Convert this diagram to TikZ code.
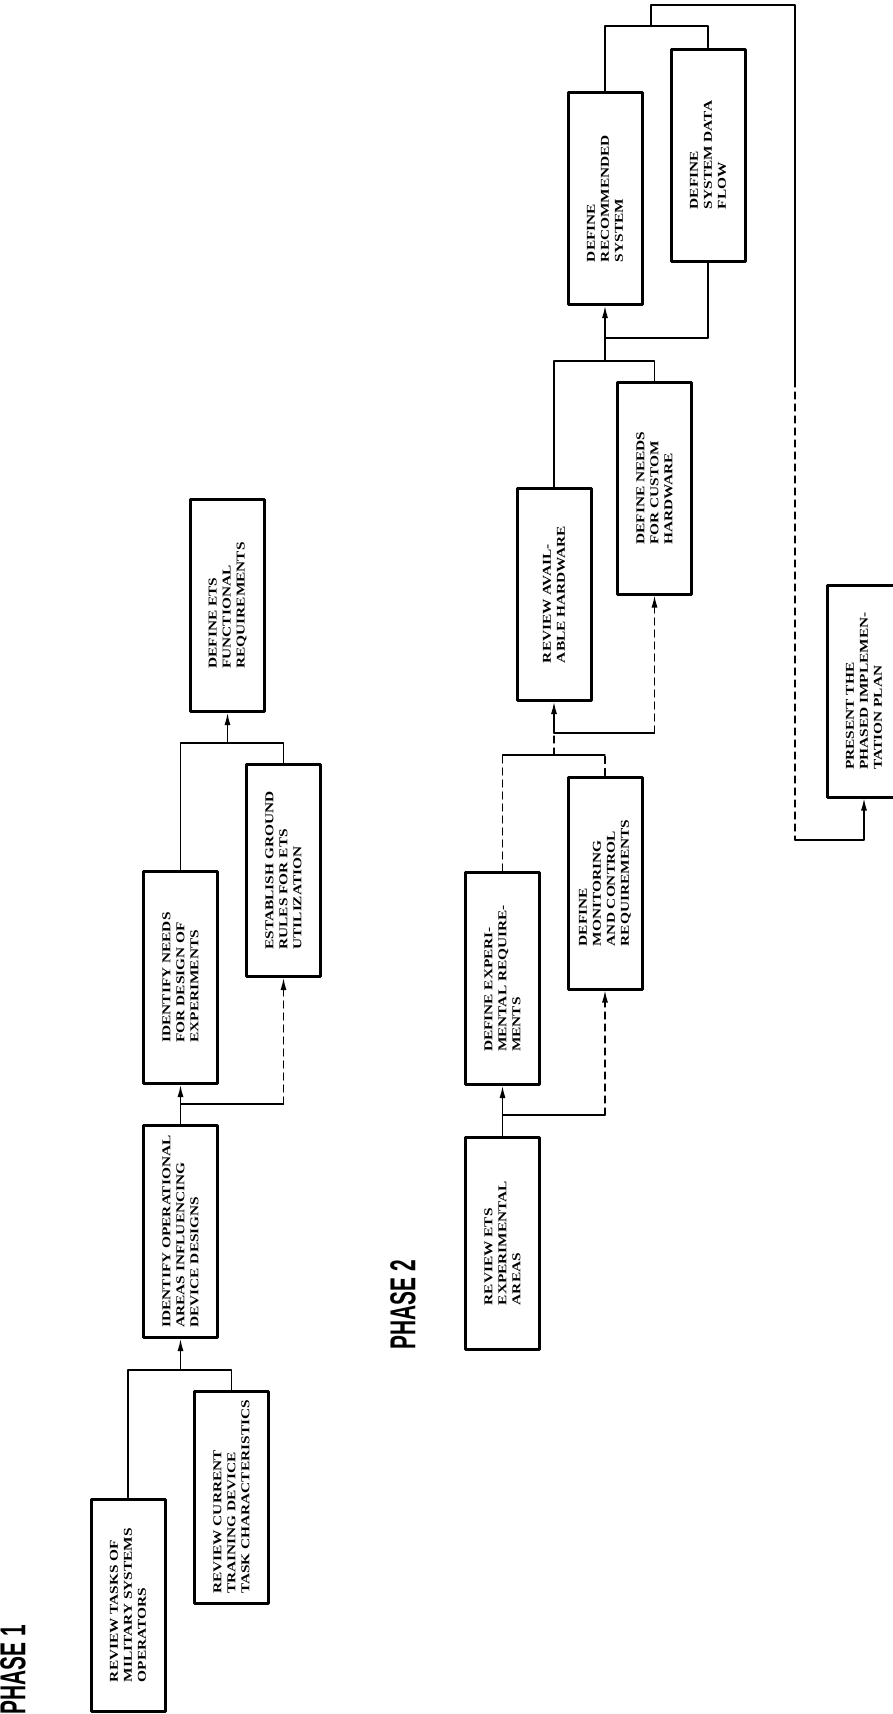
\documentclass[tikz,border=0pt]{standalone}
\usepackage{fontspec}
\newfontfamily\boxfont[FakeStretch=1.28]{Liberation Serif}
\newfontfamily\phasefont{Liberation Sans}
\usetikzlibrary{arrows.meta}

\begin{document}
\begin{tikzpicture}[x=1pt, y=-1pt, line cap=round, line join=round, >={Latex[length=12pt,width=6pt]},
	taskbox/.style={draw, line width=3pt, rotate=90, minimum width=212pt, minimum height=74pt,
		inner sep=2pt, align=left, font=\boxfont\bfseries\fontsize{12}{14}\selectfont},
	link/.style={line width=1.3pt},
	brokenlink/.style={link, dash pattern=on 7pt off 5pt},
	phase/.style={rotate=90, inner sep=0pt, font=\phasefont\bfseries\fontsize{36}{36}\selectfont}]
	
	% Page frame
	\useasboundingbox (0,0) rectangle (892,1714);
	
	% Phase labels
	\node[phase] (ph1) at (13,1670) {\scalebox{0.58}[1]{PHASE 1}};
	\node[phase] (ph2) at (403,1305) {\scalebox{0.58}[1]{PHASE 2}};
	
	% Phase 1 boxes
	\node[taskbox] (rtasks) at (128,1605) {REVIEW TASKS OF\\MILITARY SYSTEMS\\OPERATORS};
	\node[taskbox] (rcurrent) at (231.5,1497) {REVIEW CURRENT\\TRAINING DEVICE\\TASK CHARACTERISTICS};
	\node[taskbox] (idops) at (180.5,1231.5) {IDENTIFY OPERATIONAL\\AREAS INFLUENCING\\DEVICE DESIGNS};
	\node[taskbox] (idneeds) at (180.5,977.5) {IDENTIFY NEEDS\\FOR DESIGN OF\\EXPERIMENTS};
	\node[taskbox] (rules) at (283.5,870.5) {ESTABLISH GROUND\\RULES FOR ETS\\UTILIZATION};
	\node[taskbox] (etsreq) at (227.5,605.5) {DEFINE ETS\\FUNCTIONAL\\REQUIREMENTS};
	
	% Phase 2 boxes
	\node[taskbox] (rareas) at (502.5,1243) {REVIEW ETS\\EXPERIMENTAL\\AREAS};
	\node[taskbox] (expreq) at (502.5,978.5) {DEFINE EXPERI-\\MENTAL REQUIRE-\\MENTS};
	\node[taskbox] (monreq) at (605,883) {DEFINE\\MONITORING\\AND CONTROL\\REQUIREMENTS};
	\node[taskbox] (rhard) at (554,594.5) {REVIEW AVAIL-\\ABLE HARDWARE};
	\node[taskbox] (custom) at (654.5,488) {DEFINE NEEDS\\FOR CUSTOM\\HARDWARE};
	\node[taskbox] (recsys) at (605,198.5) {DEFINE\\RECOMMENDED\\SYSTEM};
	\node[taskbox] (dataflow) at (708,155) {DEFINE\\SYSTEM DATA\\FLOW};
	\node[taskbox] (plan) at (864,691) {PRESENT THE\\PHASED IMPLEMEN-\\TATION PLAN};
	
	% Phase 1 links
	\coordinate (j1) at (idops.west |- 0,1370);
	\draw[link] (rtasks.east) |- (j1) -| (rcurrent.east);
	\draw[link,->] (j1) -- (idops.west);
	
	\coordinate (j2) at (idneeds.west |- 0,1104);
	\coordinate (j2r) at (rules.west |- 0,1104);
	\draw[link] (idops.east) -- (j2) -- (j2r);
	\draw[link,->] (j2) -- (idneeds.west);
	\draw[brokenlink,->] (j2r) -- (rules.west);
	
	\coordinate (j3) at (etsreq.west |- 0,743);
	\draw[link] (idneeds.east) |- (j3) -| (rules.east);
	\draw[link,->] (j3) -- (etsreq.west);
	
	% Phase 2 links
	\coordinate (k1) at (expreq.west |- 0,1115);
	\coordinate (k1r) at (monreq.west |- 0,1115);
	\draw[link] (rareas.east) -- (k1) -- (k1r);
	\draw[link,->] (k1) -- (expreq.west);
	\draw[brokenlink,->] (k1r) -- (monreq.west);
	
	\coordinate (k2) at (rhard.west |- 0,755);
	\coordinate (k2l) at (expreq.east |- 0,755);
	\coordinate (k2r) at (monreq.east |- 0,755);
	\draw[brokenlink] (expreq.east) -- (k2l);
	\draw[brokenlink] (monreq.east) -- (k2r);
	\draw[link] (k2l) -- (k2r);
	
	\coordinate (k3) at (rhard.west |- 0,733);
	\coordinate (k3r) at (custom.west |- 0,733);
	\draw[brokenlink] (k2) -- (k3);
	\draw[link,->] (k3) -- (rhard.west);
	\draw[link] (k3) -- (k3r);
	\draw[brokenlink,->] (k3r) -- (custom.west);
	
	\coordinate (k4) at (recsys.west |- 0,361);
	\coordinate (k5) at (recsys.west |- 0,338);
	\draw[link] (rhard.east) |- (k4) -| (custom.east);
	\draw[link,->] (k4) -- (recsys.west);
	\draw[link] (dataflow.west) |- (k5);
	
	% Loop round to the plan
	\coordinate (k6) at (651,26);
	\coordinate (t1) at (651,5);
	\coordinate (t2) at (795,5);
	\coordinate (t3) at (795,380);
	\coordinate (t4) at (795,840);
	\draw[link] (recsys.east) |- (k6) -| (dataflow.east);
	\draw[link] (k6) -- (t1) -- (t2) -- (t3);
	\draw[brokenlink] (t3) -- (t4);
	\draw[link,->] (t4) -| (plan.west);
	
\end{tikzpicture}
\end{document}
